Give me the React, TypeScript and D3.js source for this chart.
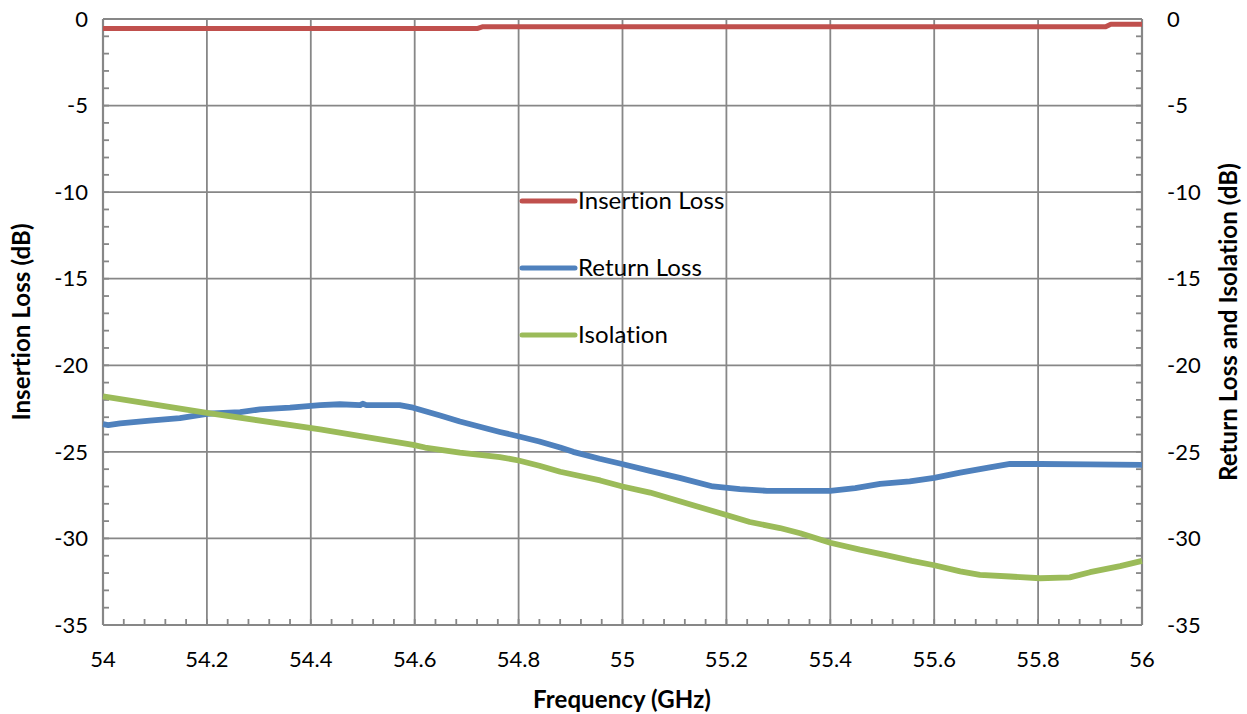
import React from "react";
import * as d3 from "d3";

const xTicks = [54, 54.2, 54.4, 54.6, 54.8, 55, 55.2, 55.4, 55.6, 55.8, 56];
const yTicks = [0, -5, -10, -15, -20, -25, -30, -35];

const insertionFreq = [54.0, 54.72, 54.73, 55.93, 55.94, 56.0];
const insertionVal = [-0.55, -0.55, -0.45, -0.45, -0.3, -0.3];

const returnFreq = [54.0, 54.01, 54.033, 54.09, 54.148, 54.2, 54.264, 54.302, 54.36, 54.418, 54.456, 54.495, 54.5, 54.507, 54.533, 54.571, 54.597, 54.649, 54.687, 54.764, 54.799, 54.84, 54.88, 54.905, 54.956, 54.999, 55.053, 55.11, 55.174, 55.226, 55.278, 55.342, 55.4, 55.448, 55.496, 55.553, 55.6, 55.65, 55.707, 55.746, 55.804, 55.9, 56.0];
const returnVal = [-23.4, -23.45, -23.35, -23.2, -23.05, -22.8, -22.7, -22.55, -22.45, -22.3, -22.25, -22.3, -22.22, -22.3, -22.3, -22.3, -22.45, -22.9, -23.25, -23.85, -24.1, -24.4, -24.75, -25.0, -25.4, -25.7, -26.1, -26.5, -27.0, -27.15, -27.25, -27.25, -27.25, -27.1, -26.85, -26.7, -26.5, -26.2, -25.9, -25.7, -25.7, -25.72, -25.75];

const isolationFreq = [54.0, 54.2, 54.418, 54.597, 54.62, 54.687, 54.764, 54.8, 54.84, 54.88, 54.957, 55.0, 55.053, 55.11, 55.149, 55.2, 55.245, 55.303, 55.342, 55.4, 55.457, 55.505, 55.557, 55.6, 55.65, 55.688, 55.746, 55.804, 55.861, 55.9, 55.958, 56.0];
const isolationVal = [-21.8, -22.75, -23.7, -24.6, -24.75, -25.05, -25.3, -25.5, -25.8, -26.15, -26.65, -27.0, -27.35, -27.85, -28.2, -28.65, -29.05, -29.4, -29.7, -30.25, -30.65, -30.95, -31.3, -31.55, -31.9, -32.1, -32.2, -32.3, -32.25, -31.95, -31.6, -31.3];

const seriesNames = ["Insertion Loss", "Return Loss", "Isolation"];
const seriesColors = ["#C0504D", "#4F81BD", "#9BBB59"];

const W = 1247;
const H = 714;
const left = 103;
const right = 1142;
const top = 19;
const bottom = 625;
const FONT = "Lato, 'Open Sans', sans-serif";
const GRID = "#878787";

export default function App() {
  const x = d3.scaleLinear().domain([54, 56]).range([left, right]);
  const y = d3.scaleLinear().domain([-35, 0]).range([bottom, top]);
  const line = d3
    .line<[number, number]>()
    .x((d) => x(d[0]))
    .y((d) => y(d[1]))
    .curve(d3.curveLinear);

  const zip = (f: number[], v: number[]) => f.map((fv, i) => [fv, v[i]] as [number, number]);
  const series = [
    zip(insertionFreq, insertionVal),
    zip(returnFreq, returnVal),
    zip(isolationFreq, isolationVal),
  ];

  const minorX = d3.range(0, 51).map((i) => 54 + i * 0.04);
  const minorY = d3.range(0, 36).map((i) => -i);

  return (
    <svg
      width={W}
      height={H}
      style={{ position: "absolute", left: 0, top: 0, fontVariantLigatures: "none", fontFeatureSettings: '"liga" 0' }}
      fontFamily={FONT}
    >
      <rect x={0} y={0} width={W} height={H} fill="#fff" />
      {xTicks.map((t) => (
        <line key={"gx" + t} x1={x(t)} x2={x(t)} y1={top} y2={bottom} stroke={GRID} strokeWidth={1.8} />
      ))}
      {yTicks.map((t) => (
        <line key={"gy" + t} x1={left} x2={right} y1={y(t)} y2={y(t)} stroke={GRID} strokeWidth={1.8} />
      ))}
      {minorX.map((t, i) => (
        <line key={"mx" + i} x1={x(t)} x2={x(t)} y1={bottom} y2={bottom - 6} stroke={GRID} strokeWidth={1.8} />
      ))}
      {minorY.map((t, i) => (
        <g key={"my" + i}>
          <line x1={left} x2={left + 6} y1={y(t)} y2={y(t)} stroke={GRID} strokeWidth={1.8} />
          <line x1={right} x2={right - 6} y1={y(t)} y2={y(t)} stroke={GRID} strokeWidth={1.8} />
        </g>
      ))}
      <line x1={left} x2={left} y1={top} y2={bottom} stroke={GRID} strokeWidth={2.2} />
      <line x1={right} x2={right} y1={top} y2={bottom} stroke={GRID} strokeWidth={2.2} />
      <line x1={left} x2={right} y1={bottom} y2={bottom} stroke={GRID} strokeWidth={2.2} />

      {series.map((s, i) => (
        <path key={"s" + i} d={line(s) || ""} fill="none" stroke={seriesColors[i]} strokeWidth={i === 0 ? 5 : 5.8} strokeLinejoin="round" strokeLinecap="butt" />
      ))}

      {yTicks.map((t) => (
        <text key={"ly" + t} x={left - 15} y={y(t)} dy="0.35em" textAnchor="end" fontSize={22} fill="#000">
          {t}
        </text>
      ))}
      {yTicks.map((t) => (
        <text key={"ry" + t} x={right + 25} y={y(t)} dy="0.35em" textAnchor="start" fontSize={22} fill="#000">
          {t}
        </text>
      ))}
      {xTicks.map((t) => (
        <text key={"lx" + t} x={x(t)} y={bottom + 42} textAnchor="middle" fontSize={22} fill="#000">
          {t}
        </text>
      ))}

      <text x={622} y={708} textAnchor="middle" fontSize={24} fontWeight="bold" letterSpacing={0.1}>
        Frequency (GHz)
      </text>
      <text transform={`translate(30, ${(top + bottom) / 2}) rotate(-90)`} textAnchor="middle" fontSize={24} fontWeight="bold" letterSpacing={0.1}>
        Insertion Loss (dB)
      </text>
      <text transform={`translate(1237, ${(top + bottom) / 2}) rotate(-90)`} textAnchor="middle" fontSize={24} fontWeight="bold" letterSpacing={0.1}>
        Return Loss and Isolation (dB)
      </text>

      {seriesNames.map((n, i) => (
        <g key={"lg" + i} transform={`translate(520, ${201 + i * 67})`}>
          <line x1={2} x2={55} y1={0} y2={0} stroke={seriesColors[i]} strokeWidth={5} strokeLinecap="round" />
          <text x={58} y={0} dy="0.35em" fontSize={24} fill="#000" letterSpacing={0.1}>
            {n}
          </text>
        </g>
      ))}
    </svg>
  );
}
